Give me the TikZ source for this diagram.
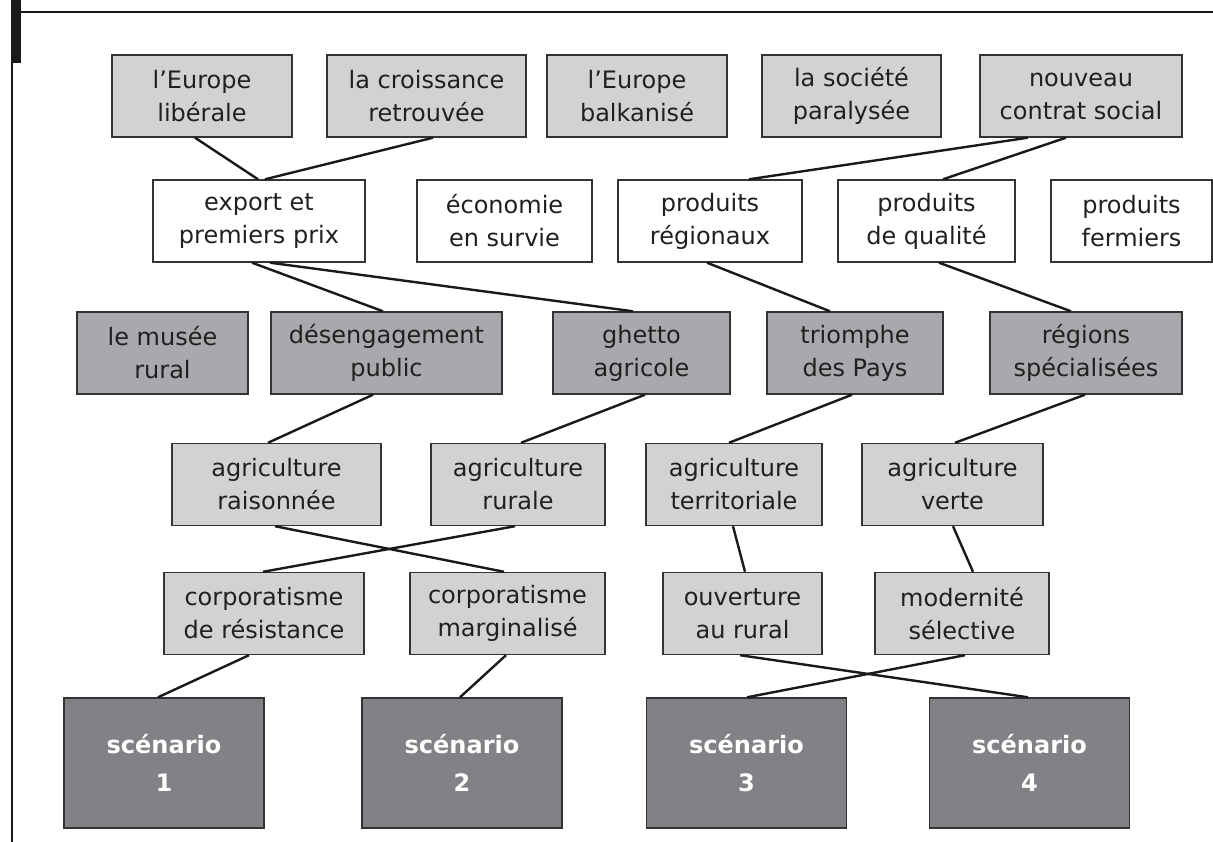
\documentclass[tikz,border=0pt]{standalone}
\usepackage{fontspec}
\setmainfont{DejaVu Sans}
\definecolor{inkgray}{HTML}{231F20}
\definecolor{edgegray}{HTML}{333333}
\definecolor{paleFill}{HTML}{D1D2D4}
\definecolor{midFill}{HTML}{A7A9AC}
\definecolor{deepFill}{HTML}{808285}
\begin{document}
\begin{tikzpicture}[x=1pt,y=-1pt,
  box/.style={draw=edgegray, line width=1.4pt, inner sep=0pt, align=center,
    text=inkgray, font=\fontsize{24}{33}\selectfont, minimum height=82pt},
  whitebox/.style={box, fill=white},
  palebox/.style={box, fill=paleFill},
  midbox/.style={box, fill=midFill},
  scenbox/.style={box, fill=deepFill, text=white, minimum height=130pt,
    minimum width=200pt, font=\fontsize{24}{38}\selectfont\bfseries},
  link/.style={draw=black!90, line width=2.4pt}]
\useasboundingbox (0,0) rectangle (1213,842);

% page frame
\draw[line width=2.6pt, black!90] (12,0) -- (12,842);
\draw[line width=2.4pt, black!90] (12,12) -- (1213,12);
\fill[black!90] (10.7,0) rectangle (20.7,63);

% level 1: european context
\node[palebox, minimum width=180pt] (eulib)    at (202,96)    {l’Europe\\libérale};
\node[palebox, minimum width=199pt] (croiss)   at (426.5,96)  {la croissance\\retrouvée};
\node[palebox, minimum width=180pt] (balk)     at (637,96)    {l’Europe\\balkanisé};
\node[palebox, minimum width=179pt] (societe)  at (851.5,96)  {la société\\paralysée};
\node[palebox, minimum width=202pt] (contrat)  at (1081,96)   {nouveau\\contrat social};

% level 2: markets
\node[whitebox, minimum width=212pt] (export)   at (259,221)    {export et\\premiers prix};
\node[whitebox, minimum width=175pt] (economie) at (504.5,221)  {économie\\en survie};
\node[whitebox, minimum width=184pt] (regionaux) at (710,221)   {produits\\régionaux};
\node[whitebox, minimum width=177pt] (qualite)  at (926.5,221)  {produits\\de qualité};
\node[whitebox, minimum width=161pt] (fermiers) at (1131.5,221) {produits\\fermiers};

% level 3: territories
\node[midbox, minimum width=171pt] (musee)    at (162.5,353) {le musée\\rural};
\node[midbox, minimum width=231pt] (deseng)   at (386.5,353) {désengagement\\public};
\node[midbox, minimum width=177pt] (ghetto)   at (641.5,353) {ghetto\\agricole};
\node[midbox, minimum width=176pt] (triomphe) at (855,353)   {triomphe\\des Pays};
\node[midbox, minimum width=192pt] (regions)  at (1086,353)  {régions\\spécialisées};

% level 4: agricultures
\node[palebox, minimum width=209pt] (raison) at (276.5,484.5) {agriculture\\raisonnée};
\node[palebox, minimum width=174pt] (rurale) at (518,484.5)   {agriculture\\rurale};
\node[palebox, minimum width=176pt] (territ) at (734,484.5)   {agriculture\\territoriale};
\node[palebox, minimum width=181pt] (verte)  at (952.5,484.5) {agriculture\\verte};

% level 5: professional organisation
\node[palebox, minimum width=200pt] (resist) at (264,613.5)   {corporatisme\\de résistance};
\node[palebox, minimum width=195pt] (margin) at (507.5,613.5) {corporatisme\\marginalisé};
\node[palebox, minimum width=159pt] (ouvert) at (742.5,613.5) {ouverture\\au rural};
\node[palebox, minimum width=174pt] (modern) at (962,613.5)   {modernité\\sélective};

% level 6: scenarios
\node[scenbox] (sA) at (164,763)    {scénario\\1};
\node[scenbox] (sB) at (462,763)    {scénario\\2};
\node[scenbox] (sC) at (746.5,763)  {scénario\\3};
\node[scenbox] (sD) at (1029.5,763) {scénario\\4};

% links
\draw[link] ([xshift=-7pt]eulib.south)    -- ([xshift=-1pt]export.north);
\draw[link] ([xshift=6.5pt]croiss.south)  -- ([xshift=6pt]export.north);
\draw[link] ([xshift=-53pt]contrat.south) -- ([xshift=39pt]regionaux.north);
\draw[link] ([xshift=-15pt]contrat.south) -- ([xshift=16.5pt]qualite.north);

\draw[link] ([xshift=-7pt]export.south)   -- ([xshift=-3.5pt]deseng.north);
\draw[link] ([xshift=11pt]export.south)   -- ([xshift=-8.5pt]ghetto.north);
\draw[link] ([xshift=-3pt]regionaux.south) -- ([xshift=-25pt]triomphe.north);
\draw[link] ([xshift=12.5pt]qualite.south) -- ([xshift=-15pt]regions.north);

\draw[link] ([xshift=-13.5pt]deseng.south) -- ([xshift=-8.5pt]raison.north);
\draw[link] ([xshift=3.5pt]ghetto.south)   -- ([xshift=3pt]rurale.north);
\draw[link] ([xshift=-3pt]triomphe.south)  -- ([xshift=-5pt]territ.north);
\draw[link] ([xshift=-1pt]regions.south)   -- ([xshift=2.5pt]verte.north);

\draw[link] ([xshift=-1.5pt]raison.south) -- ([xshift=-3.5pt]margin.north);
\draw[link] ([xshift=-3pt]rurale.south)   -- ([xshift=-1pt]resist.north);
\draw[link] ([xshift=-1pt]territ.south)   -- ([xshift=2.5pt]ouvert.north);
\draw[link] ([xshift=0.5pt]verte.south)   -- ([xshift=11pt]modern.north);

\draw[link] ([xshift=-15pt]resist.south)  -- ([xshift=-6pt]sA.north);
\draw[link] ([xshift=-1.5pt]margin.south) -- ([xshift=-2pt]sB.north);
\draw[link] ([xshift=-2.5pt]ouvert.south) -- ([xshift=-1.5pt]sD.north);
\draw[link] ([xshift=3pt]modern.south)    -- ([xshift=0.5pt]sC.north);
\end{tikzpicture}
\end{document}
